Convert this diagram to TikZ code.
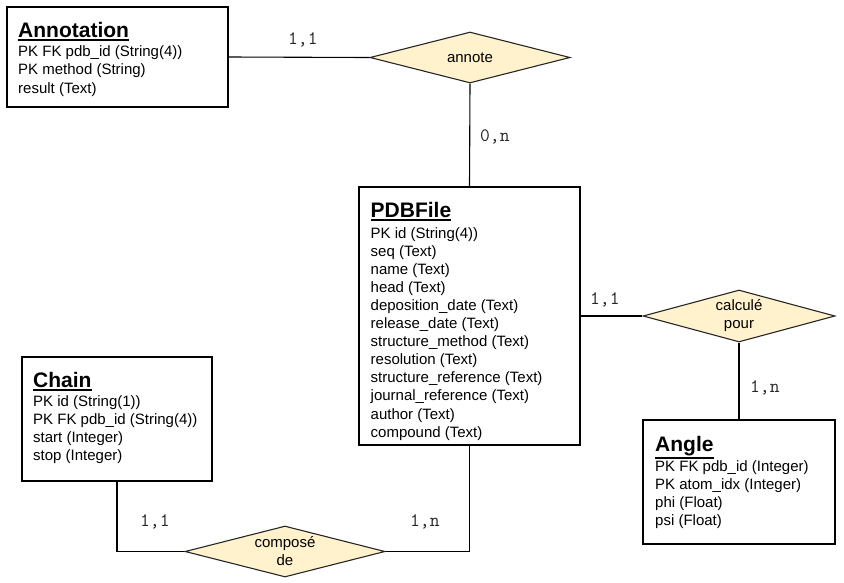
\documentclass[tikz,border=0pt]{standalone}
\usepackage{fontspec}
\setmainfont{Liberation Sans}
\usetikzlibrary{shapes.geometric}
\newcommand\ertitle[1]{\leavevmode\vtop{\hbox{#1}\kern1.6pt\hrule height 1.8pt}}
\tikzset{
  entity/.style={draw=black, line width=1.1pt, fill=white, rectangle, inner sep=0pt},
  relation/.style={draw=black!85, line width=1.1pt, fill=relfill, diamond, inner sep=0pt},
  attr/.style={anchor=base west, inner sep=0pt, font=\fontsize{15}{18}\selectfont},
  ttl/.style={anchor=base west, inner sep=0pt, font=\fontsize{21}{24}\selectfont\bfseries},
  card/.style={anchor=base west, inner sep=0pt, font=\ttfamily\fontsize{19}{22}\selectfont, text=black!85},
  reltext/.style={align=center, inner sep=0pt, font=\fontsize{15}{18}\selectfont},
  conn/.style={draw=black, line width=1.1pt}
}
\definecolor{relfill}{HTML}{FFF2CC}
\begin{document}
\begin{tikzpicture}[x=1pt,y=-1pt]
\useasboundingbox[fill=white] (0,0) rectangle (844,582);
% entities
\node[entity, minimum width=221pt, minimum height=100pt] (annotation) at (117.5,57) {};
\node[entity, minimum width=221pt, minimum height=258pt] (pdb) at (469.5,316) {};
\node[entity, minimum width=190pt, minimum height=124pt] (chain) at (117,419) {};
\node[entity, minimum width=192pt, minimum height=124pt] (angle) at (739,482) {};
% relations
\node[relation, minimum width=200pt, minimum height=51pt] (annote) at (470,57.5) {};
\node[relation, minimum width=192pt, minimum height=52pt] (calc) at (739,316) {};
\node[relation, minimum width=200pt, minimum height=51pt] (compose) at (285,551.5) {};
\node[reltext] (annotetxt) at (annote.center) {annote};
\node[reltext] (calctxt) at (calc.center) {calculé\\pour};
\node[reltext] (composetxt) at (compose.center) {composé\\de};
% connectors
\draw[conn] (annotation.east) -- (annote.west);
\draw[conn] (annote.south) -- (pdb.north);
\draw[conn] (pdb.east) -- (calc.west);
\draw[conn] (calc.south) -- (angle.north);
\draw[conn] (chain.south) |- (compose.west);
\draw[conn] (pdb.south) |- (compose.east);
% cardinalities
\node[card] (c1) at (288,44) {1,1};
\node[card] (c2) at (480,141.5) {0,n};
\node[card] (c3) at (590,304) {1,1};
\node[card] (c4) at (750,392) {1,n};
\node[card] (c5) at (140,526) {1,1};
\node[card] (c6) at (410,526) {1,n};
% Annotation text
\node[ttl] (annotationttl) at (18,37) {\ertitle{Annotation}};
\foreach \t [count=\i] in {PK FK pdb\_id (String(4)), PK method (String), result (Text)}
  \node[attr] (an\i) at (18,{56.5+18.4*(\i-1)}) {\t};
% PDBFile text
\node[ttl] (pdbttl) at (370.5,217) {\ertitle{PDBFile}};
\foreach \t [count=\i] in {PK id (String(4)), seq (Text), name (Text), head (Text), deposition\_date (Text), release\_date (Text), structure\_method (Text), resolution (Text), structure\_reference (Text), journal\_reference (Text), author (Text), compound (Text)}
  \node[attr] (pd\i) at (370.5,{238+18.1*(\i-1)}) {\t};
% Chain text
\node[ttl] (chainttl) at (33,387) {\ertitle{Chain}};
\foreach \t [count=\i] in {PK id (String(1)), PK FK pdb\_id (String(4)), start (Integer), stop (Integer)}
  \node[attr] (ch\i) at (33,{406+18.3*(\i-1)}) {\t};
% Angle text
\node[ttl] (anglettl) at (655,451) {\ertitle{Angle}};
\foreach \t [count=\i] in {PK FK pdb\_id (Integer), PK atom\_idx (Integer), phi (Float), psi (Float)}
  \node[attr] (ag\i) at (655,{471+18*(\i-1)}) {\t};
\end{tikzpicture}
\end{document}
